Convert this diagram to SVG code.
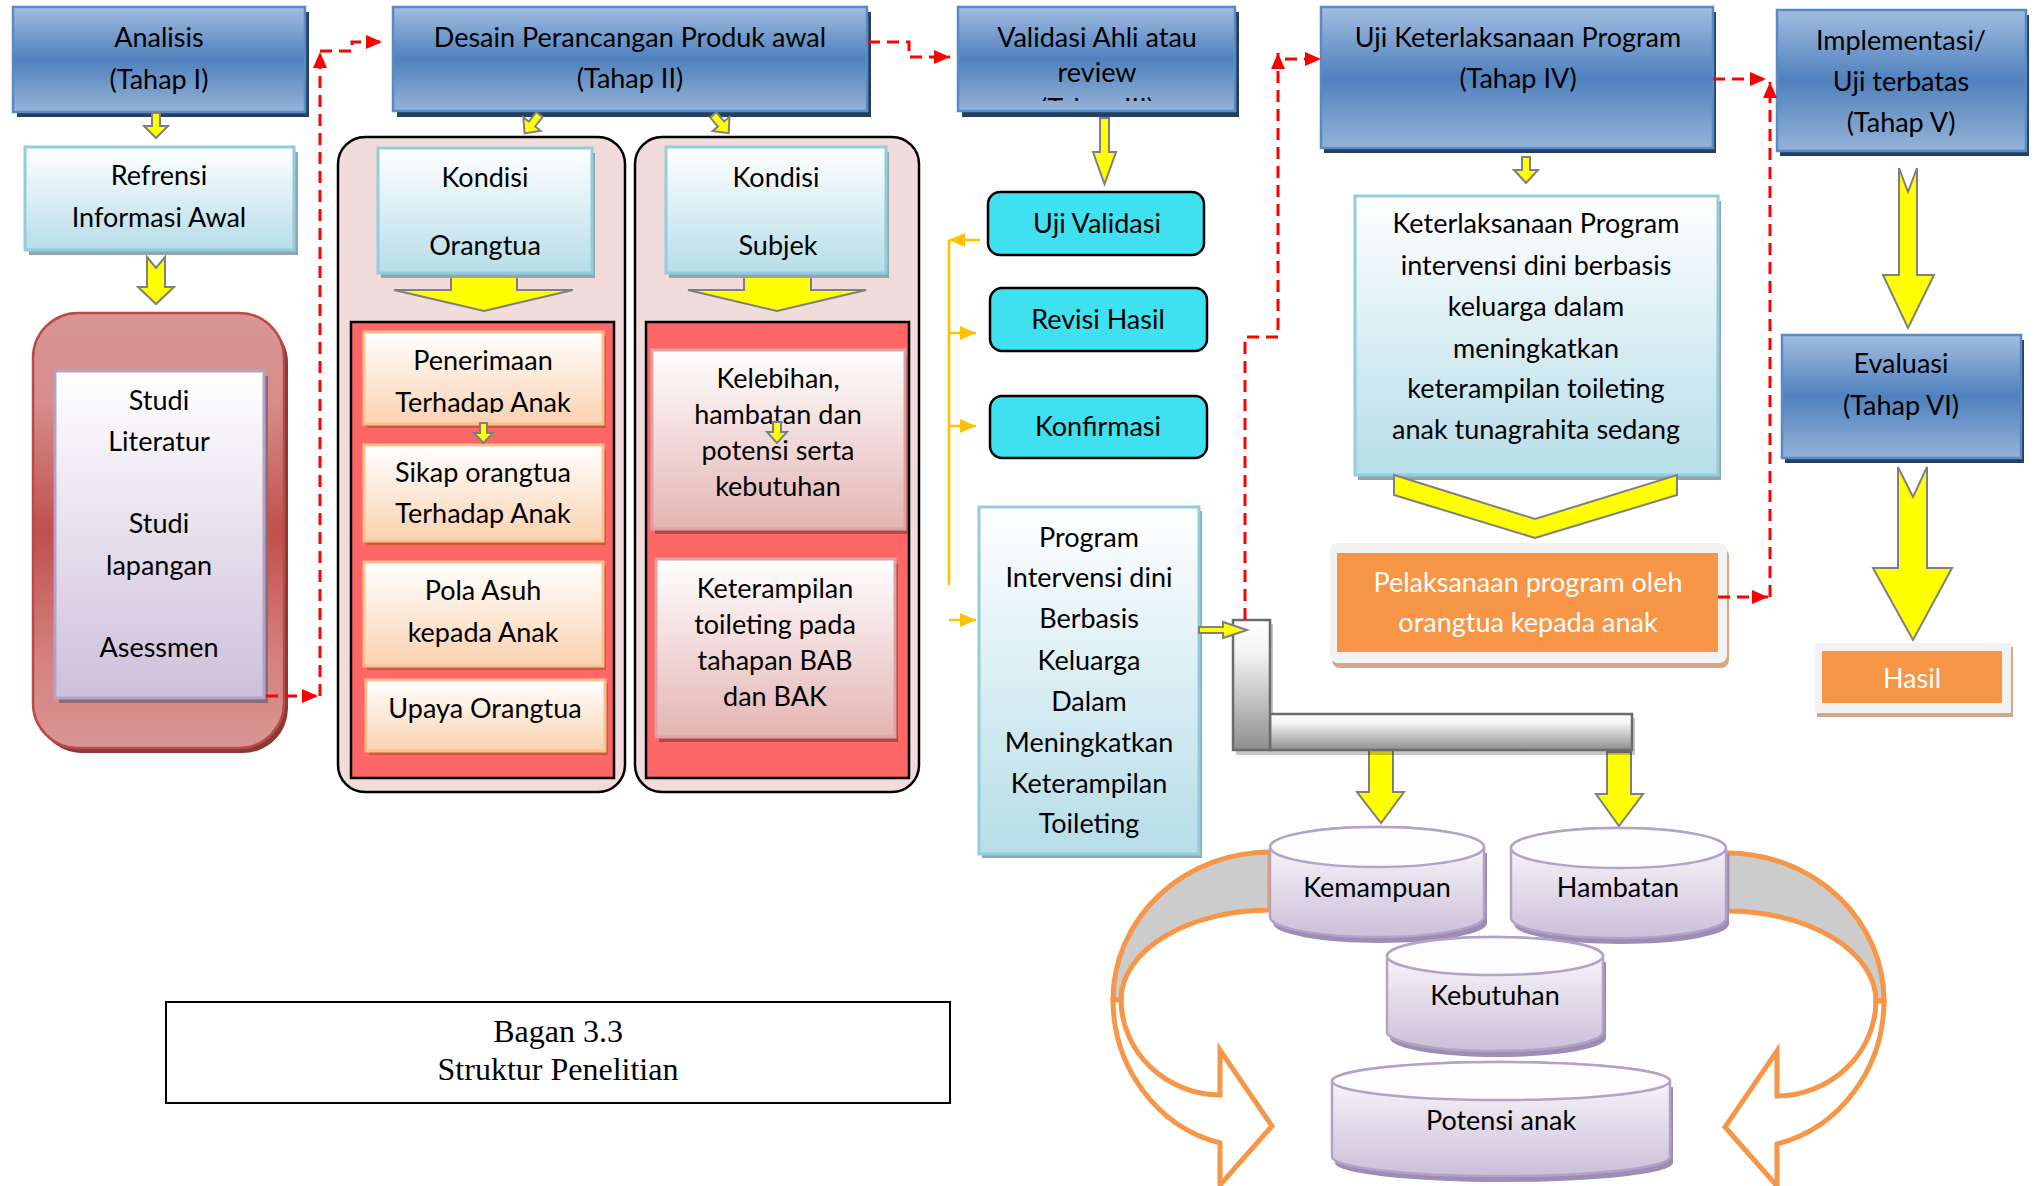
<svg xmlns="http://www.w3.org/2000/svg" width="2034" height="1186" viewBox="0 0 2034 1186">
<defs>
<style>
.t{font-family:Lato,"Liberation Sans",sans-serif;font-size:27px;fill:#000;text-anchor:middle}
.tw{fill:#fff}
.serif{font-family:"Liberation Serif","Times New Roman",serif;font-size:32px;fill:#000;text-anchor:middle}
.blue{fill:url(#gBlue);stroke:#5a8ac6;stroke-width:2.5}
.bsh{fill:#243f60}
.lb{fill:url(#gLB);stroke:#93cddd;stroke-width:3}
.lbsh{fill:#8fa6ae}
.lav{fill:url(#gLav);stroke:#b3a2c7;stroke-width:3}
.lavsh{fill:#8c6a7a}
.pe{fill:url(#gPe);stroke:#fac090;stroke-width:3}
.pesh{fill:#cd5a3c}
.pk{fill:url(#gPk);stroke:#dca3a2;stroke-width:3}
.pksh{fill:#b04a4a}
.cyan{fill:#3fe0f0;stroke:#000;stroke-width:2.5}
.ya{fill:#ffff00;stroke:#7f7f7f;stroke-width:2;stroke-linejoin:miter}
.rd{fill:none;stroke:#ff0000;stroke-width:3;stroke-dasharray:12 7}
.og{fill:none;stroke:#ffc000;stroke-width:2.5}
.panel{fill:#f2dcdb;stroke:#000;stroke-width:2.5}
.redin{fill:#ff6666;stroke:#000;stroke-width:2.5}
.cyl{fill:url(#gCyl);stroke:#b3a2c7;stroke-width:2.5}
.cyltop{fill:#fdfcff;stroke:#b3a2c7;stroke-width:2.5}
.cylsh{fill:#9d8db5}
.pipe{fill:url(#gPipe);stroke:#6b6b6b;stroke-width:2.5}
.curv{stroke:#f79646;stroke-width:5;stroke-linejoin:miter}
</style>
<linearGradient id="gBlue" x1="0" y1="0" x2="0" y2="1">
<stop offset="0" stop-color="#a2bde0"/><stop offset="0.5" stop-color="#4f81bd"/><stop offset="1" stop-color="#95b3d7"/>
</linearGradient>
<linearGradient id="gLB" x1="0" y1="0" x2="0" y2="1">
<stop offset="0" stop-color="#ffffff"/><stop offset="1" stop-color="#b6dde8"/>
</linearGradient>
<linearGradient id="gLav" x1="0" y1="0" x2="0" y2="1">
<stop offset="0" stop-color="#ffffff"/><stop offset="1" stop-color="#ccc0da"/>
</linearGradient>
<linearGradient id="gPe" x1="0" y1="0" x2="0" y2="1">
<stop offset="0" stop-color="#ffffff"/><stop offset="1" stop-color="#fbd2b0"/>
</linearGradient>
<linearGradient id="gPk" x1="0" y1="0" x2="0" y2="1">
<stop offset="0" stop-color="#ffffff"/><stop offset="1" stop-color="#e4b4b3"/>
</linearGradient>
<linearGradient id="gRed" x1="0" y1="0" x2="0" y2="1">
<stop offset="0" stop-color="#d99694"/><stop offset="0.2" stop-color="#d68e8c"/><stop offset="0.5" stop-color="#c0504d"/><stop offset="0.8" stop-color="#d4827f"/><stop offset="1" stop-color="#d99694"/>
</linearGradient>
<linearGradient id="gCyl" x1="0" y1="0" x2="0" y2="1">
<stop offset="0" stop-color="#ffffff"/><stop offset="1" stop-color="#cbbfd9"/>
</linearGradient>
<linearGradient id="gPipe" x1="0" y1="0" x2="0" y2="1">
<stop offset="0" stop-color="#ffffff"/><stop offset="0.25" stop-color="#f4f4f4"/><stop offset="1" stop-color="#8e8e8e"/>
</linearGradient>
<marker id="mRed" viewBox="0 0 16 14" refX="16" refY="7" markerWidth="16" markerHeight="14" markerUnits="userSpaceOnUse" orient="auto">
<path d="M0,0 L16,7 L0,14 Z" fill="#ff0000"/>
</marker>
<marker id="mOr" viewBox="0 0 16 14" refX="16" refY="7" markerWidth="16" markerHeight="14" markerUnits="userSpaceOnUse" orient="auto">
<path d="M0,0 L16,7 L0,14 Z" fill="#ffc000"/>
</marker>
<polygon id="smallArr" points="-4,-12 4,-12 4,0 11,0 0,12 -11,0 -4,0"/>
<clipPath id="clipPen"><rect x="364" y="332" width="239" height="81"/></clipPath>
<clipPath id="clipVal"><rect x="958" y="7" width="277" height="94"/></clipPath>
</defs>
<rect width="2034" height="1186" fill="#ffffff"/>

<g id="bagan">
<rect x="166" y="1002" width="784" height="101" fill="#fff" stroke="#000" stroke-width="2"/>
<text class="serif" x="558" y="1042">Bagan 3.3</text>
<text class="serif" x="558" y="1080">Struktur Penelitian</text>
</g>

<g id="analisis">
<rect class="bsh" x="17" y="12" width="292" height="105"/>
<rect class="blue" x="13" y="7" width="292" height="105"/>
<text class="t" x="159" y="47">Analisis</text>
<text class="t" x="159" y="89">(Tahap I)</text>
</g>

<g id="refrensi">
<rect class="lbsh" x="29" y="152" width="269" height="103"/>
<rect class="lb" x="25" y="147" width="269" height="103"/>
<text class="t" x="159" y="185">Refrensi</text>
<text class="t" x="159" y="227">Informasi Awal</text>
</g>

<g id="studi">
<rect x="37" y="318" width="251" height="435" rx="45" fill="#8c3836"/>
<rect x="33" y="313" width="251" height="435" rx="45" fill="url(#gRed)" stroke="#b84a47" stroke-width="2.5"/>
<rect class="lavsh" x="59" y="376" width="209" height="327"/>
<rect class="lav" x="55" y="371" width="209" height="327"/>
<text class="t" x="159" y="410">Studi</text>
<text class="t" x="159" y="451">Literatur</text>
<text class="t" x="159" y="533">Studi</text>
<text class="t" x="159" y="575">lapangan</text>
<text class="t" x="159" y="657">Asessmen</text>
</g>

<g id="desain">
<rect class="bsh" x="397" y="12" width="474" height="105"/>
<rect class="blue" x="393" y="7" width="474" height="104"/>
<text class="t" x="630" y="47">Desain Perancangan Produk awal</text>
<text class="t" x="630" y="88">(Tahap II)</text>
</g>

<g id="panel-orangtua">
<rect class="panel" x="338" y="137" width="287" height="655" rx="27"/>
<polygon class="ya" points="451,274 517,274 517,290 573,290 484,311 394,290 451,290"/>
<rect class="lbsh" x="381" y="153" width="214" height="125"/>
<rect class="lb" x="378" y="148" width="214" height="125"/>
<text class="t" x="485" y="187">Kondisi</text>
<text class="t" x="485" y="255">Orangtua</text>
<rect class="redin" x="351" y="322" width="263" height="456"/>
<rect class="pesh" x="367" y="336" width="239" height="92"/>
<rect class="pe" x="364" y="332" width="239" height="92"/>
<g clip-path="url(#clipPen)">
<text class="t" x="483" y="370">Penerimaan</text>
<text class="t" x="483" y="412">Terhadap Anak</text>
</g>
<rect class="pesh" x="367" y="449" width="239" height="96"/>
<rect class="pe" x="364" y="445" width="239" height="96"/>
<text class="t" x="483" y="482">Sikap orangtua</text>
<text class="t" x="483" y="523">Terhadap Anak</text>
<polygon class="ya" points="480,423 487,423 487,433 493,433 483.5,443 474,433 480,433"/>
<rect class="pesh" x="367" y="566" width="239" height="104"/>
<rect class="pe" x="364" y="562" width="239" height="104"/>
<text class="t" x="483" y="600">Pola Asuh</text>
<text class="t" x="483" y="642">kepada Anak</text>
<rect class="pesh" x="369" y="684" width="239" height="71"/>
<rect class="pe" x="366" y="680" width="239" height="71"/>
<text class="t" x="485" y="718">Upaya Orangtua</text>
</g>

<g id="panel-subjek">
<rect class="panel" x="635" y="137" width="284" height="655" rx="27"/>
<polygon class="ya" points="744,274 811,274 811,290 866,290 777,311 688,290 744,290"/>
<rect class="lbsh" x="669" y="152" width="220" height="126"/>
<rect class="lb" x="666" y="147" width="220" height="126"/>
<text class="t" x="776" y="187">Kondisi</text>
<text class="t" x="778" y="255">Subjek</text>
<rect class="redin" x="646" y="322" width="263" height="456"/>
<rect class="pksh" x="655" y="355" width="253" height="179"/>
<rect class="pk" x="652" y="350" width="253" height="179"/>
<text class="t" x="778" y="388">Kelebihan,</text>
<text class="t" x="778" y="424">hambatan dan</text>
<text class="t" x="778" y="460">potensi serta</text>
<text class="t" x="778" y="496">kebutuhan</text>
<polygon class="ya" points="773,422 781,422 781,432 787,432 777,443 767,432 773,432"/>
<rect class="pksh" x="659" y="564" width="239" height="178"/>
<rect class="pk" x="656" y="559" width="239" height="178"/>
<text class="t" x="775" y="598">Keterampilan</text>
<text class="t" x="775" y="634">toileting pada</text>
<text class="t" x="775" y="670">tahapan BAB</text>
<text class="t" x="775" y="706">dan BAK</text>
</g>

<g id="validasi">
<rect class="bsh" x="962" y="12" width="277" height="105"/>
<rect class="blue" x="958" y="7" width="277" height="104"/>
<text class="t" x="1097" y="47">Validasi Ahli atau</text>
<text class="t" x="1097" y="82">review</text>
<g clip-path="url(#clipVal)"><text class="t" x="1097" y="118">(Tahap III)</text></g>
</g>

<g id="uji-validasi">
<rect class="cyan" x="988" y="192" width="216" height="63" rx="12"/>
<text class="t" x="1097" y="233">Uji Validasi</text>
</g>
<g id="revisi-hasil">
<rect class="cyan" x="990" y="288" width="217" height="63" rx="12"/>
<text class="t" x="1098" y="329">Revisi Hasil</text>
</g>
<g id="konfirmasi">
<rect class="cyan" x="990" y="396" width="217" height="62" rx="12"/>
<text class="t" x="1098" y="436">Konfirmasi</text>
</g>

<g id="program">
<rect class="lbsh" x="982" y="511" width="220" height="347"/>
<rect class="lb" x="979" y="507" width="220" height="347"/>
<text class="t" x="1089" y="547">Program</text>
<text class="t" x="1089" y="587">Intervensi dini</text>
<text class="t" x="1089" y="628">Berbasis</text>
<text class="t" x="1089" y="670">Keluarga</text>
<text class="t" x="1089" y="711">Dalam</text>
<text class="t" x="1089" y="752">Meningkatkan</text>
<text class="t" x="1089" y="793">Keterampilan</text>
<text class="t" x="1089" y="833">Toileting</text>
</g>

<g id="curved-arrows">
<g id="curve-left">
<path class="curv" fill="#cccccc" d="M1270,852 A157,148 0 0 0 1113,1000 L1121,1000 A149,90 0 0 1 1270,910 Z"/>
<path class="curv" fill="#ffffff" d="M1113,1000 A140,148 0 0 0 1220,1143 L1220,1185 L1272,1126 L1220,1050 L1220,1095 A100,96 0 0 1 1121,1000 Z"/>
</g>
<g id="curve-right" transform="translate(2997,1) scale(-1,1)">
<path class="curv" fill="#cccccc" d="M1270,852 A157,148 0 0 0 1113,1000 L1121,1000 A149,90 0 0 1 1270,910 Z"/>
<path class="curv" fill="#ffffff" d="M1113,1000 A140,148 0 0 0 1220,1143 L1220,1185 L1272,1126 L1220,1050 L1220,1095 A100,96 0 0 1 1121,1000 Z"/>
</g>
</g>

<g id="pipe">
<polygon class="ya" points="1369,750 1393,750 1393,792 1404,792 1381,823 1357,792 1369,792"/>
<polygon class="ya" points="1607,752 1631,752 1631,794 1643,794 1619,826 1596,794 1607,794"/>
<rect x="1273" y="718" width="362" height="37" fill="#000" opacity="0.22"/>
<rect x="1236" y="624" width="37" height="131" fill="#000" opacity="0.22"/>
<rect class="pipe" x="1270" y="714" width="362" height="36"/>
<rect class="pipe" x="1233" y="620" width="37" height="130"/>
</g>

<g id="kemampuan">
<path class="cylsh" d="M1273,853 L1273,923 A107,20 0 0 0 1487,923 L1487,853 Z"/>
<path class="cyl" d="M1270,847 L1270,917 A107,20 0 0 0 1484,917 L1484,847 A107,20 0 0 0 1270,847 Z"/>
<ellipse class="cyltop" cx="1377" cy="847" rx="107" ry="20"/>
<text class="t" x="1377" y="897">Kemampuan</text>
</g>
<g id="hambatan">
<path class="cylsh" d="M1514,854 L1514,924 A107.5,20 0 0 0 1729,924 L1729,854 Z"/>
<path class="cyl" d="M1511,848 L1511,918 A107.5,20 0 0 0 1726,918 L1726,848 A107.5,20 0 0 0 1511,848 Z"/>
<ellipse class="cyltop" cx="1618.5" cy="848" rx="107.5" ry="20"/>
<text class="t" x="1618" y="897">Hambatan</text>
</g>
<g id="kebutuhan">
<path class="cylsh" d="M1390,962 L1390,1038 A108,19 0 0 0 1606,1038 L1606,962 Z"/>
<path class="cyl" d="M1387,956 L1387,1032 A108,19 0 0 0 1603,1032 L1603,956 A108,19 0 0 0 1387,956 Z"/>
<ellipse class="cyltop" cx="1495" cy="956" rx="108" ry="19"/>
<text class="t" x="1495" y="1005">Kebutuhan</text>
</g>
<g id="potensi">
<path class="cylsh" d="M1335,1087 L1335,1163 A169,19 0 0 0 1673,1163 L1673,1087 Z"/>
<path class="cyl" d="M1332,1081 L1332,1157 A169,19 0 0 0 1670,1157 L1670,1081 A169,19 0 0 0 1332,1081 Z"/>
<ellipse class="cyltop" cx="1501" cy="1081" rx="169" ry="19"/>
<text class="t" x="1501" y="1130">Potensi anak</text>
</g>

<g id="uji-keterlaksanaan">
<rect class="bsh" x="1324" y="12" width="392" height="141"/>
<rect class="blue" x="1321" y="7" width="392" height="141"/>
<text class="t" x="1518" y="47">Uji Keterlaksanaan Program</text>
<text class="t" x="1518" y="88">(Tahap IV)</text>
</g>

<g id="keterlaksanaan">
<rect class="lbsh" x="1358" y="201" width="363" height="279"/>
<rect class="lb" x="1355" y="196" width="363" height="279"/>
<text class="t" x="1536" y="233">Keterlaksanaan Program</text>
<text class="t" x="1536" y="275">intervensi dini berbasis</text>
<text class="t" x="1536" y="316">keluarga dalam</text>
<text class="t" x="1536" y="358">meningkatkan</text>
<text class="t" x="1536" y="398">keterampilan toileting</text>
<text class="t" x="1536" y="439">anak tunagrahita sedang</text>
</g>

<g id="pelaksanaan">
<rect x="1332" y="548" width="397" height="120" rx="8" fill="#d6a888"/>
<rect x="1330" y="543" width="397" height="120" rx="8" fill="#f2f2f2"/>
<rect x="1337" y="553" width="381" height="99" fill="#f79646"/>
<text class="t tw" x="1528" y="592">Pelaksanaan program oleh</text>
<text class="t tw" x="1528" y="632">orangtua kepada anak</text>
</g>

<g id="implementasi">
<rect class="bsh" x="1780" y="15" width="249" height="141"/>
<rect class="blue" x="1777" y="10" width="249" height="141"/>
<text class="t" x="1901" y="50">Implementasi/</text>
<text class="t" x="1901" y="91">Uji terbatas</text>
<text class="t" x="1901" y="132">(Tahap V)</text>
</g>

<g id="evaluasi">
<rect class="bsh" x="1785" y="340" width="239" height="123"/>
<rect class="blue" x="1782" y="335" width="239" height="123"/>
<text class="t" x="1901" y="373">Evaluasi</text>
<text class="t" x="1901" y="415">(Tahap VI)</text>
</g>

<g id="hasil">
<rect x="1817" y="647" width="196" height="70" fill="#d6a888"/>
<rect x="1815" y="643" width="196" height="70" fill="#f2f2f2"/>
<rect x="1822" y="651" width="180" height="52" fill="#f79646"/>
<text class="t tw" x="1912" y="688">Hasil</text>
</g>

<g id="connectors">
<polygon class="ya" points="152,113 160,113 160,126 168,126 156,138 144,126 152,126"/>
<polygon class="ya" points="147,257 156,268 165,257 165,287 174,287 156,304 138,287 147,287"/>
<use href="#smallArr" class="ya" transform="translate(532,124) rotate(38)"/>
<use href="#smallArr" class="ya" transform="translate(721,124) rotate(-40)"/>
<polygon class="ya" points="1100,118 1109,118 1109,152 1116,152 1104.5,184 1093,152 1100,152"/>
<polygon class="ya" points="1199,627 1223,627 1223,622 1247,630 1223,638 1223,633 1199,633"/>
<polygon class="ya" points="1522,157 1530,157 1530,170 1538,170 1526,183 1514,170 1522,170"/>
<polygon class="ya" points="1394,475 1535,519 1677,475 1677,495 1535,538 1394,495"/>
<polygon class="ya" points="1899,168 1908,192 1917,168 1917,275 1934,275 1908,328 1883,275 1899,275"/>
<polygon class="ya" points="1898,467 1913,497 1927,467 1927,568 1952,568 1913,640 1873,568 1898,568"/>

<path class="rd" d="M266,696 H318" marker-end="url(#mRed)"/>
<path class="rd" d="M320,696 V52" marker-end="url(#mRed)"/>
<path class="rd" d="M320,51 H352 V42 H382" marker-end="url(#mRed)"/>
<path class="rd" d="M868,42 H909 V57 H950" marker-end="url(#mRed)"/>
<path class="rd" d="M1245,620 V337 H1278 V53" marker-end="url(#mRed)"/>
<path class="rd" d="M1285,59 H1321" marker-end="url(#mRed)"/>
<path class="rd" d="M1713,79 H1766" marker-end="url(#mRed)"/>
<path class="rd" d="M1718,597 H1768" marker-end="url(#mRed)"/>
<path class="rd" d="M1770,597 V82" marker-end="url(#mRed)"/>

<path class="og" d="M949,240 V585"/>
<path class="og" d="M980,240 H949" marker-end="url(#mOr)"/>
<path class="og" d="M949,333 H976" marker-end="url(#mOr)"/>
<path class="og" d="M949,426 H976" marker-end="url(#mOr)"/>
<path class="og" d="M949,620 H976" marker-end="url(#mOr)"/>
</g>
</svg>
